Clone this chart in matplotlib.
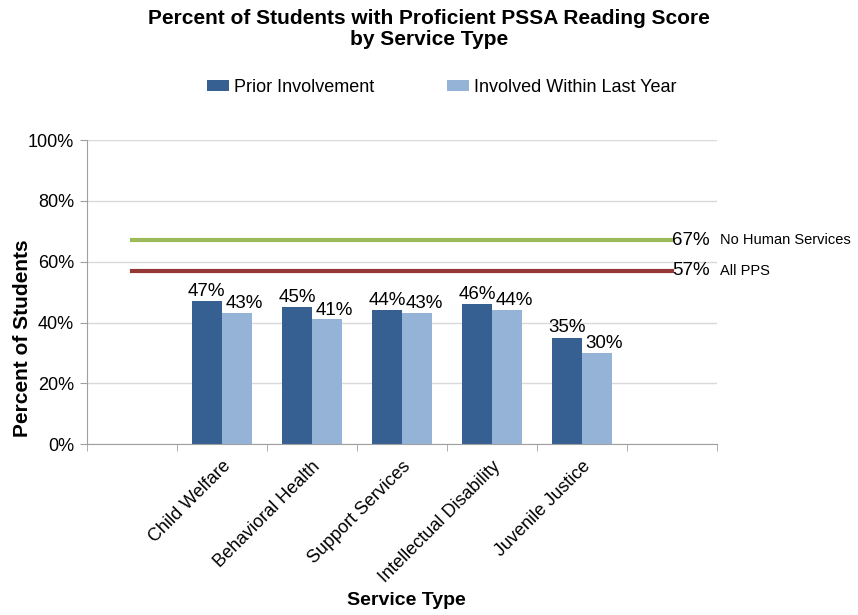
import matplotlib.pyplot as plt

plt.rcParams['font.family'] = ['Liberation Sans', 'DejaVu Sans']

# categories (first and last slots are empty in the original)
categories = ['', 'Child Welfare', 'Behavioral Health', 'Support Services',
              'Intellectual Disability', 'Juvenile Justice', '']
prior = [47, 45, 44, 46, 35]
within_year = [43, 41, 43, 44, 30]
no_human_services = 67
all_pps = 57

dark = '#376092'
light = '#95B3D7'

fig = plt.figure(figsize=(8.58, 6.15), dpi=100)
ax = fig.add_axes([0.101, 0.278, 0.735, 0.494])

# gridlines
ax.set_axisbelow(True)
ax.yaxis.grid(True, color='#D9D9D9', linewidth=1)

bar_pos = list(range(1, 1 + len(prior)))
w = 0.333
b1 = ax.bar([p - w / 2 for p in bar_pos], prior, width=w, color=dark,
            label='Prior Involvement', zorder=2)
b2 = ax.bar([p + w / 2 for p in bar_pos], within_year, width=w, color=light,
            label='Involved Within Last Year', zorder=2)

for p, v in zip(bar_pos, prior):
    ax.text(p - w / 2, v + 0.5, '%d%%' % v, ha='center', va='bottom', fontsize=13.5)
for p, v in zip(bar_pos, within_year):
    ax.text(p + w / 2 + 0.08, v + 0.3, '%d%%' % v, ha='center', va='bottom', fontsize=13.5)

# reference lines
ax.plot([0, 6], [no_human_services] * 2, color='#9BBB59', linewidth=3, zorder=3)
ax.plot([0, 6], [all_pps] * 2, color='#953735', linewidth=3, zorder=3)
ax.text(6, no_human_services, '%d%%' % no_human_services, ha='left', va='center', fontsize=13.5)
ax.text(6, all_pps, '%d%%' % all_pps, ha='left', va='center', fontsize=13.5)
ax.text(6.53, no_human_services, 'No Human Services', ha='left', va='center', fontsize=10.5)
ax.text(6.53, all_pps, 'All PPS', ha='left', va='center', fontsize=10.5)

ax.set_xlim(-0.5, 6.5)
ax.set_ylim(0, 100)
ax.set_yticks(range(0, 101, 20))
ax.set_yticklabels(['%d%%' % t for t in range(0, 101, 20)], fontsize=13)
ax.set_xticks(range(len(categories)))
ax.set_xticklabels(categories, rotation=45, ha='right', rotation_mode='anchor', fontsize=13)
ax.set_xticks([i - 0.5 for i in range(len(categories) + 1)], minor=True)
ax.tick_params(axis='x', which='major', length=0, pad=10)
ax.tick_params(axis='x', which='minor', length=5, color='#A0A0A0')
ax.tick_params(axis='y', length=5, color='#A0A0A0', pad=4)

for s in ['top', 'right']:
    ax.spines[s].set_visible(False)
for s in ['left', 'bottom']:
    ax.spines[s].set_color('#A0A0A0')

fig.text(0.026, 0.450, 'Percent of Students', rotation=90, ha='center', va='center',
         fontsize=15, fontweight='bold')
fig.text(0.474, 0.024, 'Service Type', ha='center', va='center',
         fontsize=14, fontweight='bold')

fig.text(0.5, 0.985, 'Percent of Students with Proficient PSSA Reading Score\nby Service Type',
         ha='center', va='top', fontsize=15, fontweight='bold', linespacing=1.15)

fig.legend(handles=[b1, b2], loc='center', bbox_to_anchor=(0.515, 0.858), ncol=2,
           frameon=False, fontsize=13, handlelength=1.2, handleheight=0.5,
           handletextpad=0.3, columnspacing=4.0)

fig.savefig('out.png', dpi=100)
